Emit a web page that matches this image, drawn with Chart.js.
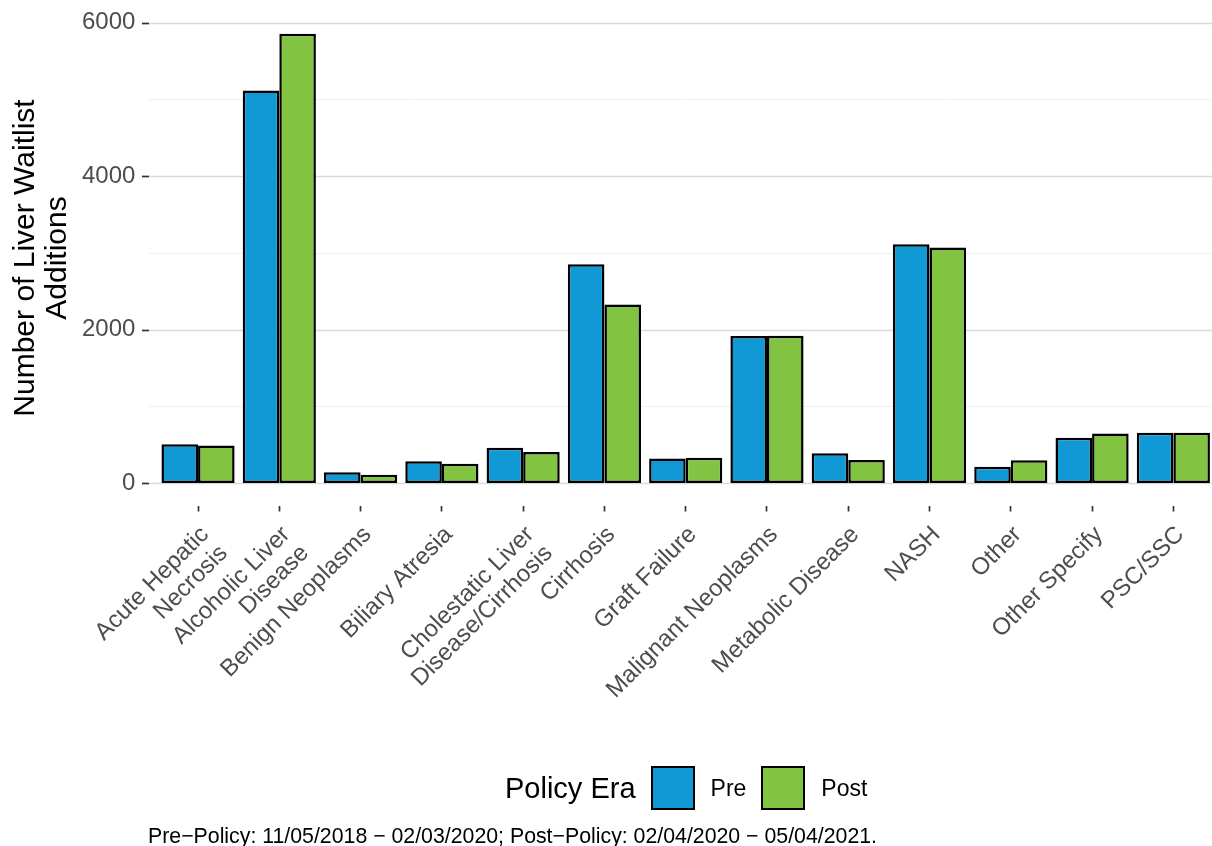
<!DOCTYPE html>
<html>
<head>
<meta charset="utf-8">
<title>Liver Waitlist Additions by Diagnosis</title>
<script src="https://cdn.jsdelivr.net/npm/chart.js@4"></script>
<style>
    body { margin: 0; overflow: hidden; background: #fff; font-family: 'Liberation Sans', Arial, sans-serif; }
    #wrap { position: relative; width: 1212px; height: 846px; overflow: hidden; }
    #chart { position: absolute; left: 0; top: 0; }
    #legend { position: absolute; left: 505px; top: 766px; height: 44px; display: flex; align-items: center; }
    #legend .title { font-size: 29px; color: #000; margin-right: 15px; }
    #legend .box { width: 40px; height: 40px; border: 2px solid #000; }
    #legend .lab { font-size: 23px; color: #000; margin: 0 15px 0 16px; }
    #caption { position: absolute; left: 148px; top: 825px; font-size: 21.3px; line-height: 22px; color: #000; white-space: nowrap; }
</style>
</head>
<body>
<div id="wrap">
    <canvas id="chart" width="1214" height="846"></canvas>
    <div id="legend"></div>
    <div id="caption"></div>
</div>
<script>
// ========== DATA ========== //
const categories = [
    ['Acute Hepatic', 'Necrosis'],
    ['Alcoholic Liver', 'Disease'],
    'Benign Neoplasms',
    'Biliary Atresia',
    ['Cholestatic Liver', 'Disease/Cirrhosis'],
    'Cirrhosis',
    'Graft Failure',
    'Malignant Neoplasms',
    'Metabolic Disease',
    'NASH',
    'Other',
    'Other Specify',
    'PSC/SSC'
];
const preValues  = [505, 5115, 140, 285, 458, 2850, 318, 1915, 388, 3110, 212, 590, 655];
const postValues = [490, 5855, 108, 250, 405, 2325, 328, 1918, 300, 3068, 298, 645, 655];
const seriesNames = ['Pre', 'Post'];
const seriesColors = ['#1199d6', '#82c341'];
const majorTicks = [0, 2000, 4000, 6000];
const minorTicks = [1000, 3000, 5000];
const yTitle = ['Number of Liver Waitlist', 'Additions'];
const legendTitle = 'Policy Era';
const captionText = 'Pre\u2212Policy: 11/05/2018 \u2212 02/03/2020; Post\u2212Policy: 02/04/2020 \u2212 05/04/2021.';

const FONT = "'Liberation Sans', Arial, sans-serif";

// ========== GGPLOT-STYLE GRID ========== //
// y gridlines run from the panel edge (a bit left of the first bar group)
const ggGrid = {
    id: 'ggGrid',
    beforeDraw(chart) {
        // nudge rotated x labels so their top-right corner sits like ggplot's hjust=1
        const xs = chart.scales.x;
        const items = xs.getLabelItems();
        if (!items._nudged) {
            items.forEach(it => {
                it.options.translation[0] += 7;
                it.options.translation[1] += 6;
            });
            items._nudged = true;
        }
    },
    beforeDatasetsDraw(chart) {
        const ctx = chart.ctx;
        const y = chart.scales.y;
        const left = 149, right = chart.width;
        function hline(v, x0, x1, color, w) {
            const py = Math.round(y.getPixelForValue(v)) + 0.5;
            ctx.strokeStyle = color;
            ctx.lineWidth = w;
            ctx.beginPath();
            ctx.moveTo(x0, py);
            ctx.lineTo(x1, py);
            ctx.stroke();
        }
        ctx.save();
        minorTicks.forEach(v => hline(v, left, right, '#f0f0f0', 1));
        majorTicks.forEach(v => hline(v, left, right, '#dadada', 1.7));
        majorTicks.forEach(v => hline(v, 142, 149, '#333333', 1.7));
        ctx.restore();
    }
};

// ========== CHART ========== //
const chart = new Chart(document.getElementById('chart'), {
    type: 'bar',
    data: {
        labels: categories,
        datasets: [
            { label: seriesNames[0], data: preValues, backgroundColor: seriesColors[0] },
            { label: seriesNames[1], data: postValues, backgroundColor: seriesColors[1] }
        ]
    },
    options: {
        responsive: false,
        animation: false,
        devicePixelRatio: 1,
        layout: { padding: { top: 10.5, left: 0, right: 0, bottom: 0 } },
        datasets: {
            bar: {
                borderColor: '#000',
                borderWidth: 2.5,
                borderSkipped: false,
                categoryPercentage: 0.9,
                barPercentage: 1.0
            }
        },
        plugins: {
            legend: { display: false },
            tooltip: { enabled: false }
        },
        scales: {
            x: {
                offset: true,
                afterFit(scale) {
                    scale.height = 340.5;
                    scale.paddingLeft = 0;
                    scale.paddingRight = 0;
                },
                grid: {
                    display: true,
                    offset: false,
                    drawOnChartArea: false,
                    drawTicks: true,
                    tickLength: 6,
                    tickWidth: 1.7,
                    tickColor: '#333333'
                },
                border: { display: false },
                ticks: {
                    autoSkip: false,
                    minRotation: 45,
                    maxRotation: 45,
                    padding: 4,
                    color: '#4d4d4d',
                    font: { family: FONT, size: 24, lineHeight: 1.1 }
                }
            },
            y: {
                min: -293,
                max: 6157,
                afterFit(scale) {
                    scale.width = 157.4;
                    scale.paddingTop = 0;
                    scale.paddingBottom = 0;
                },
                afterBuildTicks(scale) { scale.ticks = majorTicks.map(v => ({ value: v })); },
                grid: { display: false, drawTicks: false },
                border: { display: false },
                ticks: {
                    padding: 22,
                    color: '#4d4d4d',
                    font: { family: FONT, size: 24 },
                    callback: v => String(v)
                },
                title: {
                    display: true,
                    text: yTitle,
                    color: '#000',
                    padding: { top: 10, bottom: 0 },
                    font: { family: FONT, size: 30, lineHeight: 1.05 }
                }
            }
        }
    },
    plugins: [ggGrid]
});

// ========== LEGEND + CAPTION ========== //
const legendEl = document.getElementById('legend');
const t = document.createElement('span');
t.className = 'title';
t.textContent = legendTitle;
legendEl.appendChild(t);
chart.data.datasets.forEach(ds => {
    const box = document.createElement('span');
    box.className = 'box';
    box.style.background = ds.backgroundColor;
    legendEl.appendChild(box);
    const lab = document.createElement('span');
    lab.className = 'lab';
    lab.textContent = ds.label;
    legendEl.appendChild(lab);
});
document.getElementById('caption').textContent = captionText;
</script>
</body>
</html>
